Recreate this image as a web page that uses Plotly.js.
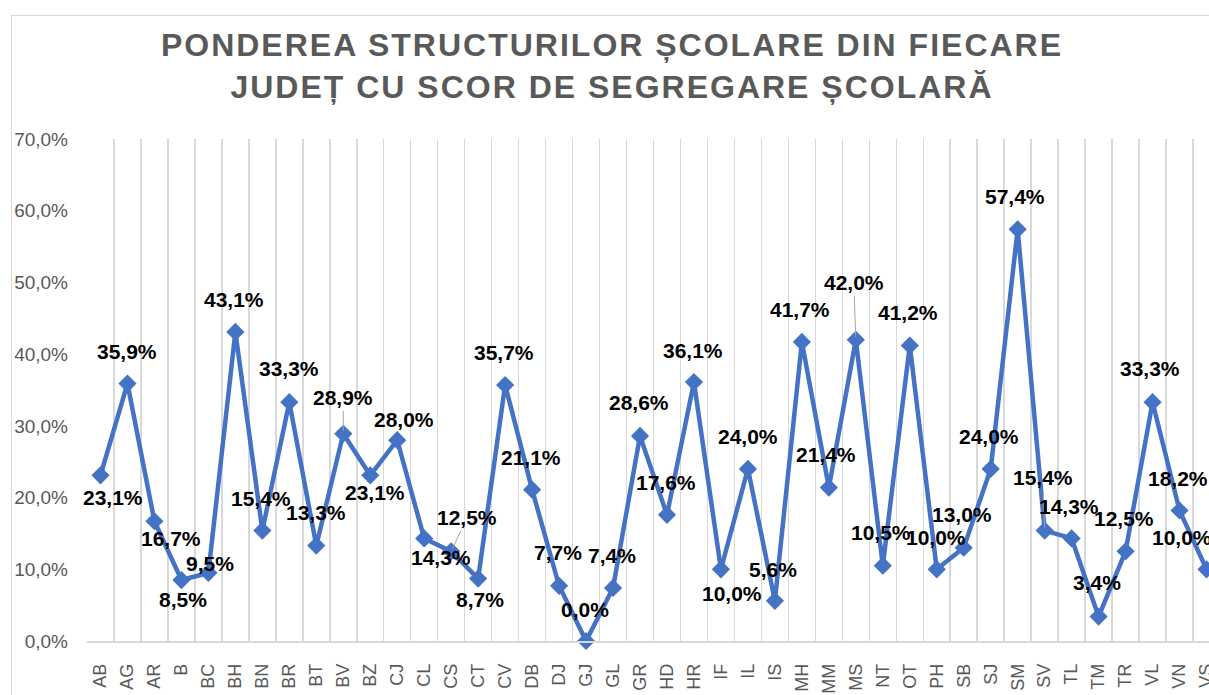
<!DOCTYPE html>
<html><head><meta charset="utf-8">
<script src="https://cdn.plot.ly/plotly-3.0.1.min.js"></script>
<style>
html,body{margin:0;padding:0;background:#fff;overflow:hidden;width:1209px;height:695px;}
#wrap{position:absolute;left:11px;top:15px;width:1240px;height:720px;border:1px solid #d9d9d9;box-sizing:border-box;background:#fff;}
#chart{position:absolute;left:0;top:0;width:1217px;height:685px;}
.gtitle{letter-spacing:2px;}
</style></head><body>
<div id="wrap"><div id="chart"></div></div>
<script>
// Counties (judete)
const categories = ['AB','AG','AR','B','BC','BH','BN','BR','BT','BV','BZ','CJ','CL','CS','CT','CV','DB','DJ','GJ','GL','GR','HD','HR','IF','IL','IS','MH','MM','MS','NT','OT','PH','SB','SJ','SM','SV','TL','TM','TR','VL','VN','VS'];
// Share (%) of school units with a school segregation score
const values = [23.1,35.9,16.7,8.5,9.5,43.1,15.4,33.3,13.3,28.9,23.1,28.0,14.3,12.5,8.7,35.7,21.1,7.7,0.0,7.4,28.6,17.6,36.1,10.0,24.0,5.6,41.7,21.4,42.0,10.5,41.2,10.0,13.0,24.0,57.4,15.4,14.3,3.4,12.5,33.3,18.2,10.0];
// Data-label placement (pixel offsets of label centre from its point) – style only
const labelOffsets = [[13,22],[0,-32],[17,17],[2,19],[2,-9],[-1,-32],[-1,-32],[0,-34],[0,-33],[0,-36],[5,17],[7,-21],[17,19],[16,-34],[2,21],[-1,-32],[-1,-32],[-1,-33],[-1,-32],[-1,-32],[-1,-33],[-1,-32],[-1,-32],[11,24],[0,-32],[-2,-31],[-2,-32],[-3,-33],[-2,-57],[-2,-33],[-2,-33],[-1,-32],[-2,-33],[-2,-32],[-3,-33],[-2,-53],[-3,-32],[-2,-34],[-2,-33],[-3,-34],[-2,-32],[-25,-32]];
const leaderLines = ['BV','CS','MS','SV'];
const yTicks = [0,10,20,30,40,50,60,70];

const fmt = v => v.toFixed(1).replace('.', ',') + '%';

const annotations = categories.map((c, i) => {
  const lead = leaderLines.includes(c);
  return {
    x: c, y: values[i], xref: 'x', yref: 'y',
    text: fmt(values[i]),
    showarrow: true, arrowhead: 0, arrowwidth: 1,
    arrowcolor: lead ? '#a6a6a6' : 'rgba(0,0,0,0)',
    standoff: lead ? 3 : 0,
    ax: labelOffsets[i][0], ay: labelOffsets[i][1],
    font: {family: 'Liberation Sans, Arial, sans-serif', size: 21, color: '#000000', weight: 'bold'}
  };
});

const trace = {
  type: 'scatter', mode: 'lines+markers',
  x: categories, y: values,
  line: {color: '#4472C4', width: 4.5},
  marker: {symbol: 'diamond', size: 14, color: '#4472C4'},
  cliponaxis: false, hoverinfo: 'x+y'
};

const layout = {
  width: 1217, height: 685,
  margin: {l: 75, r: 9, t: 123, b: 60},
  paper_bgcolor: 'rgba(0,0,0,0)', plot_bgcolor: 'rgba(0,0,0,0)',
  separators: ',.',
  showlegend: false,
  title: {
    text: 'PONDEREA STRUCTURILOR ȘCOLARE DIN FIECARE<br>JUDEȚ CU SCOR DE SEGREGARE ȘCOLARĂ',
    font: {family: 'Liberation Sans, Arial, sans-serif', size: 32, color: '#595959', weight: 'bold'},
    xref: 'container', yref: 'container', x: 0.493, xanchor: 'center', y: 0.941, yanchor: 'top'
  },
  xaxis: {
    type: 'category', range: [-0.5, categories.length - 0.5],
    tickson: 'boundaries', showgrid: true, gridcolor: '#d9d9d9', gridwidth: 1.5,
    showline: true, linecolor: '#d9d9d9', linewidth: 1.5,
    ticks: '', tickangle: -90, ticklabelstandoff: 14,
    tickfont: {family: 'Liberation Sans, Arial, sans-serif', size: 18, color: '#595959'},
    zeroline: false, fixedrange: true
  },
  yaxis: {
    range: [0, 70], tickmode: 'array', tickvals: yTicks, ticktext: yTicks.map(fmt),
    showgrid: false, zeroline: false, showline: false, ticks: '',
    ticklabelstandoff: 18,
    tickfont: {family: 'Liberation Sans, Arial, sans-serif', size: 19, color: '#595959'},
    fixedrange: true
  },
  annotations: annotations
};

Plotly.newPlot('chart', [trace], layout, {displayModeBar: false, staticPlot: true});
</script>
</body></html>
